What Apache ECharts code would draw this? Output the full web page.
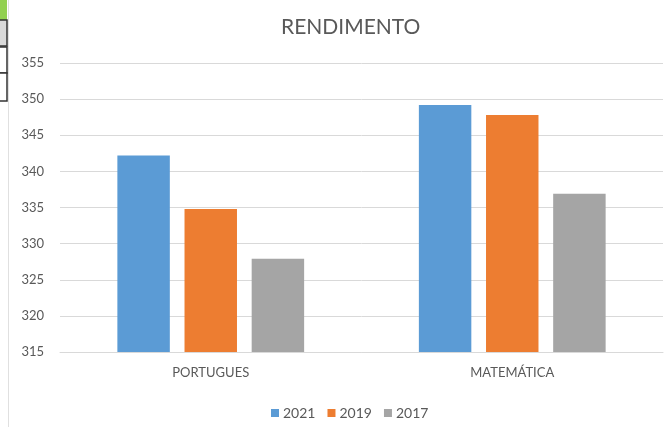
<!DOCTYPE html>
<html>
<head>
<meta charset="utf-8">
<title>RENDIMENTO</title>
<script src="https://cdn.jsdelivr.net/npm/echarts@6/dist/echarts.min.js"></script>
<style>
html, body {
	margin: 0;
	padding: 0;
	background: #fff;
}
#chart {
	width: 672px;
	height: 427px;
}
</style>
</head>
<body>
<div id="chart"></div>
<script type="text/javascript">
    // dados
    var categorias = ['PORTUGUES', 'MATEMÁTICA'];
    var anos = ['2021', '2019', '2017'];
    var valores2021 = [342.2, 349.2];
    var valores2019 = [334.8, 347.8];
    var valores2017 = [327.9, 336.9];
    var cores = ['#5B9BD5', '#ED7D31', '#A5A5A5'];

    var myChart = echarts.init(document.getElementById('chart'));

    var serieDados = [valores2021, valores2019, valores2017];
    var series = [];
    for (var i = 0; i < anos.length; i++) {
        series.push({
            name: anos[i],
            type: 'bar',
            data: serieDados[i],
            barWidth: '17.4%',
            barGap: '28%',
            itemStyle: {color: cores[i]}
        });
    }

    var option = {
        textStyle: {fontFamily: 'Lato'},
        title: {
            text: 'RENDIMENTO',
            left: 276,
            top: 12,
            textStyle: {color: '#595959', fontSize: 21, fontWeight: 'normal', fontFamily: 'Lato'}
        },
        legend: {
            data: anos,
            left: 266,
            top: 401,
            icon: 'rect',
            itemWidth: 8,
            itemHeight: 8,
            itemGap: 12,
            textStyle: {color: '#595959', fontSize: 14, padding: [0, 0, 0, -1]}
        },
        grid: {left: 60, right: 9, top: 63, bottom: 75},
        xAxis: {
            type: 'category',
            data: categorias,
            axisTick: {show: false},
            axisLine: {lineStyle: {color: '#d9d9d9'}},
            axisLabel: {color: '#595959', fontSize: 13, margin: 14}
        },
        yAxis: {
            type: 'value',
            min: 315,
            max: 355,
            interval: 5,
            axisLine: {show: false},
            axisTick: {show: false},
            axisLabel: {color: '#595959', fontSize: 13, margin: 16},
            splitLine: {lineStyle: {color: '#d9d9d9'}}
        },
        // restos da planilha na borda esquerda
        graphic: [
            {type: 'rect', shape: {x: 0, y: 0, width: 7, height: 20}, style: {fill: '#92d050'}},
            {type: 'rect', shape: {x: -2, y: 20, width: 9, height: 26}, style: {fill: '#d9d9d9', stroke: '#333', lineWidth: 1.5}},
            {type: 'rect', shape: {x: -2, y: 47, width: 9, height: 26}, style: {fill: '#fff', stroke: '#333', lineWidth: 1.5}},
            {type: 'rect', shape: {x: -2, y: 73, width: 9, height: 28}, style: {fill: '#fff', stroke: '#333', lineWidth: 1.5}},
            {type: 'line', shape: {x1: 8.5, y1: 0, x2: 8.5, y2: 427}, style: {stroke: '#e0e0e0', lineWidth: 1}}
        ],
        series: series
    };

    myChart.setOption(option);
</script>
</body>
</html>
